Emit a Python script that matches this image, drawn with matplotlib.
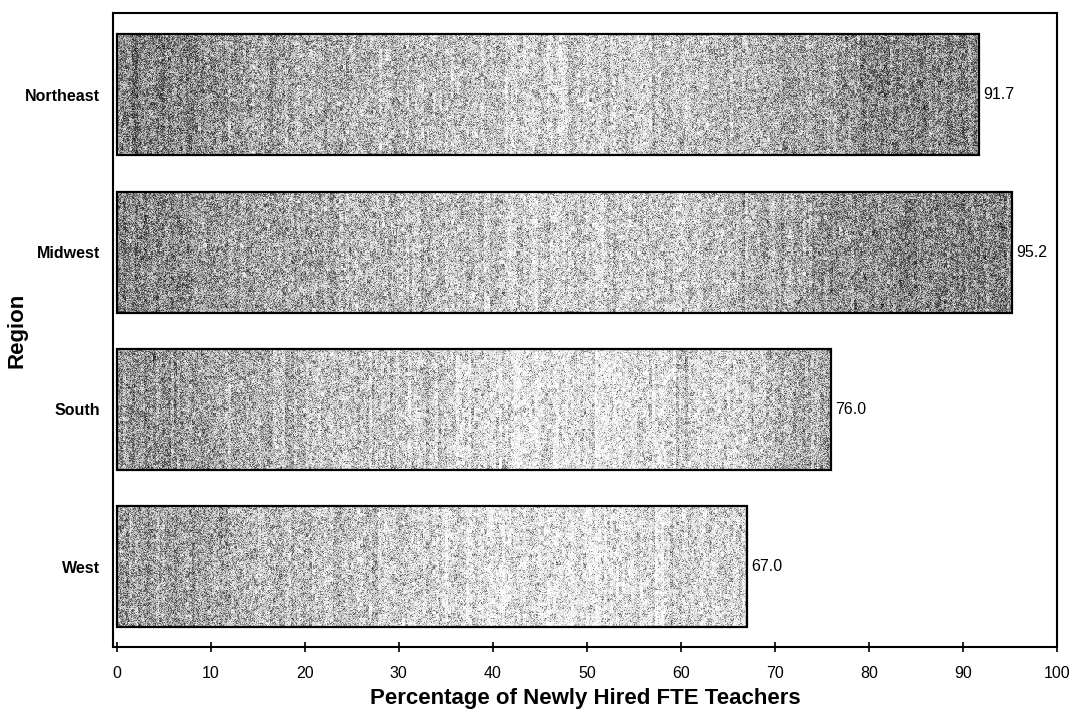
import numpy as np
import matplotlib
matplotlib.use("Agg")
import matplotlib.pyplot as plt

plt.rcParams['font.family'] = ['Liberation Sans', 'DejaVu Sans']

# Newly hired full-time-equivalent teachers, by region
regions = ["West", "South", "Midwest", "Northeast"]
percent = [67.0, 76.0, 95.2, 91.7]
value_labels = ["67.0", "76.0", "95.2", "91.7"]
xticks = [0, 10, 20, 30, 40, 50, 60, 70, 80, 90, 100]

fig = plt.figure(figsize=(10.72, 7.13), dpi=100)
ax = fig.add_axes([0.1054, 0.0926, 0.8806, 0.8892])

ypos = np.arange(len(regions))
bar_h = 0.77
bars = ax.barh(ypos, percent, height=bar_h, facecolor='none',
               edgecolor='black', linewidth=1.6, zorder=3)

# grainy grey shading inside each bar (darker at both ends, lighter mid-way)
rng = np.random.default_rng(7)
shade_x = [0, 6, 15, 25, 35, 45, 55, 65, 72, 80, 90, 100]
shade_d = [0.47, 0.47, 0.37, 0.31, 0.25, 0.20, 0.21, 0.26, 0.36, 0.45, 0.47, 0.47]
row_shift = [-0.08, -0.07, 0.0, 0.0]
for bar, val, shift in zip(bars, percent, row_shift):
    w = int(val * 9.4)
    h = 121
    xs = np.linspace(0, val, w)
    dark = np.interp(xs, shade_x, shade_d) + shift
    blot = rng.normal(0, 0.06, (h // 4 + 1, w // 3 + 1))
    blot = np.kron(blot, np.ones((4, 3)))[:h, :w]
    streak = np.kron(rng.normal(0, 0.04, w // 3 + 1), np.ones(3))[:w]
    dark = dark[None, :] + blot + streak[None, :]
    grey = 1 - dark
    dots = (rng.random((h, w)) < grey).astype(float)
    img = 0.3 * dots + 0.7 * (grey + rng.normal(0, 0.12, (h, w)))
    im = ax.imshow(np.clip(img, 0, 1), cmap='gray', vmin=0, vmax=1,
                   aspect='auto', interpolation='nearest', zorder=2,
                   extent=[0, val, bar.get_y(), bar.get_y() + bar_h])
    im.set_clip_path(bar)

for y, val, lab in zip(ypos, percent, value_labels):
    ax.text(val + 0.45, y, lab, ha='left', va='center', fontsize=11.5)

ax.set_xlim(-0.4, 100)
ax.set_ylim(-0.51, 3.52)
ax.set_xticks(xticks)
ax.set_yticks(ypos)
ax.set_yticklabels(regions, fontweight='bold')
ax.tick_params(axis='y', length=0, pad=9.5, labelsize=11.5)
ax.tick_params(axis='x', direction='inout', length=7, width=1.2,
               pad=10, labelsize=11.5)

for sp in ax.spines.values():
    sp.set_linewidth(1.5)

ax.set_xlabel("Percentage of Newly Hired FTE Teachers", fontsize=16,
              fontweight='bold', labelpad=5)
ax.set_ylabel("Region", fontsize=16, fontweight='bold', va='center')
ax.yaxis.set_label_coords(-0.102, 0.5)

fig.savefig("out.png", dpi=100)
